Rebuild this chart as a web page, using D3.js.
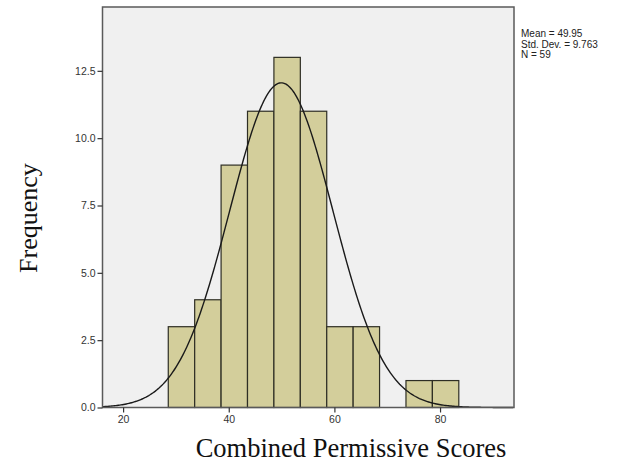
<!DOCTYPE html>
<html>
<head>
<meta charset="utf-8">
<script src="https://cdn.jsdelivr.net/npm/d3@7"></script>
<style>
  html, body { margin: 0; padding: 0; background: #ffffff; }
  svg { display: block; }
</style>
</head>
<body>
<svg id="chart" width="618" height="465"></svg>
<script>
// Histogram bins (lower edges, width 5) and frequencies
const binStarts = [28.55, 33.55, 38.55, 43.55, 48.55, 53.55, 58.55, 63.55, 68.55, 73.55, 78.55];
const binWidth = 5;
const counts = [3, 4, 9, 11, 13, 11, 3, 3, 0, 1, 1];
const xTicks = [20, 40, 60, 80];
const yTicks = [0, 2.5, 5, 7.5, 10, 12.5];
const statsLines = ["Mean = 49.95", "Std. Dev. = 9.763", "N = 59"];
const mean = 49.95, sd = 9.763, n = 59;

const svg = d3.select("#chart");
const plotLeft = 102.5, plotRight = 514, plotTop = 7, plotBottom = 407.5;

const x = d3.scaleLinear().domain([16.1, 94.0]).range([plotLeft, plotRight]);
const y = d3.scaleLinear().domain([0, 14.87]).range([plotBottom, plotTop]);

// plot background
svg.append("rect")
  .attr("x", plotLeft).attr("y", plotTop)
  .attr("width", plotRight - plotLeft).attr("height", plotBottom - plotTop)
  .attr("fill", "#f0f0f0");

// bars
svg.append("g").selectAll("rect")
  .data(binStarts.map((s, i) => ({ s, c: counts[i] })).filter(d => d.c > 0))
  .join("rect")
  .attr("x", d => x(d.s))
  .attr("y", d => y(d.c))
  .attr("width", d => x(d.s + binWidth) - x(d.s))
  .attr("height", d => y(0) - y(d.c))
  .attr("fill", "#d3ce9b")
  .attr("stroke", "#2e2e24")
  .attr("stroke-width", 1.2);

// normal curve scaled to counts
const pdf = v => n * binWidth * Math.exp(-0.5 * ((v - mean) / sd) ** 2) / (sd * Math.sqrt(2 * Math.PI));
const curvePts = d3.range(16.1, 94.0001, 0.25).map(v => [v, pdf(v)]);
svg.append("path")
  .datum(curvePts)
  .attr("fill", "none")
  .attr("stroke", "#1a1a1a")
  .attr("stroke-width", 1.4)
  .attr("d", d3.line().x(d => x(d[0])).y(d => y(d[1])));

// frame
svg.append("rect")
  .attr("x", plotLeft).attr("y", plotTop)
  .attr("width", plotRight - plotLeft).attr("height", plotBottom - plotTop)
  .attr("fill", "none")
  .attr("stroke", "#5a5a5a")
  .attr("stroke-width", 1.5);

// axes
const yAxis = d3.axisLeft(y).tickValues(yTicks).tickFormat(d3.format(".1f")).tickSize(5).tickPadding(2);
const gy = svg.append("g").attr("transform", `translate(${plotLeft},0)`).call(yAxis);
const xAxis = d3.axisBottom(x).tickValues(xTicks).tickFormat(d3.format("d")).tickSize(5).tickPadding(3);
const gx = svg.append("g").attr("transform", `translate(0,${plotBottom})`).call(xAxis);
[gy, gx].forEach(g => {
  g.select(".domain").remove();
  g.selectAll(".tick line").attr("stroke", "#333").attr("stroke-width", 1.2);
  g.selectAll(".tick text")
    .attr("fill", "#333")
    .style("font-family", "'Liberation Sans', Arial, sans-serif")
    .style("font-size", "10.5px");
});

// axis titles
svg.append("text")
  .attr("transform", "translate(37,218) rotate(-90)")
  .attr("text-anchor", "middle")
  .style("font-family", "'Liberation Serif', 'Times New Roman', serif")
  .style("font-size", "26px")
  .attr("fill", "#111")
  .text("Frequency");

svg.append("text")
  .attr("x", 351).attr("y", 457)
  .attr("text-anchor", "middle")
  .style("font-family", "'Liberation Serif', 'Times New Roman', serif")
  .style("font-size", "26.5px")
  .attr("fill", "#111")
  .text("Combined Permissive Scores");

// summary statistics
svg.append("g").selectAll("text")
  .data(statsLines)
  .join("text")
  .attr("x", 521)
  .attr("y", (d, i) => 37 + i * 10.6)
  .style("font-family", "'Liberation Sans', Arial, sans-serif")
  .style("font-size", "10px")
  .attr("fill", "#222")
  .text(d => d);
</script>
</body>
</html>
